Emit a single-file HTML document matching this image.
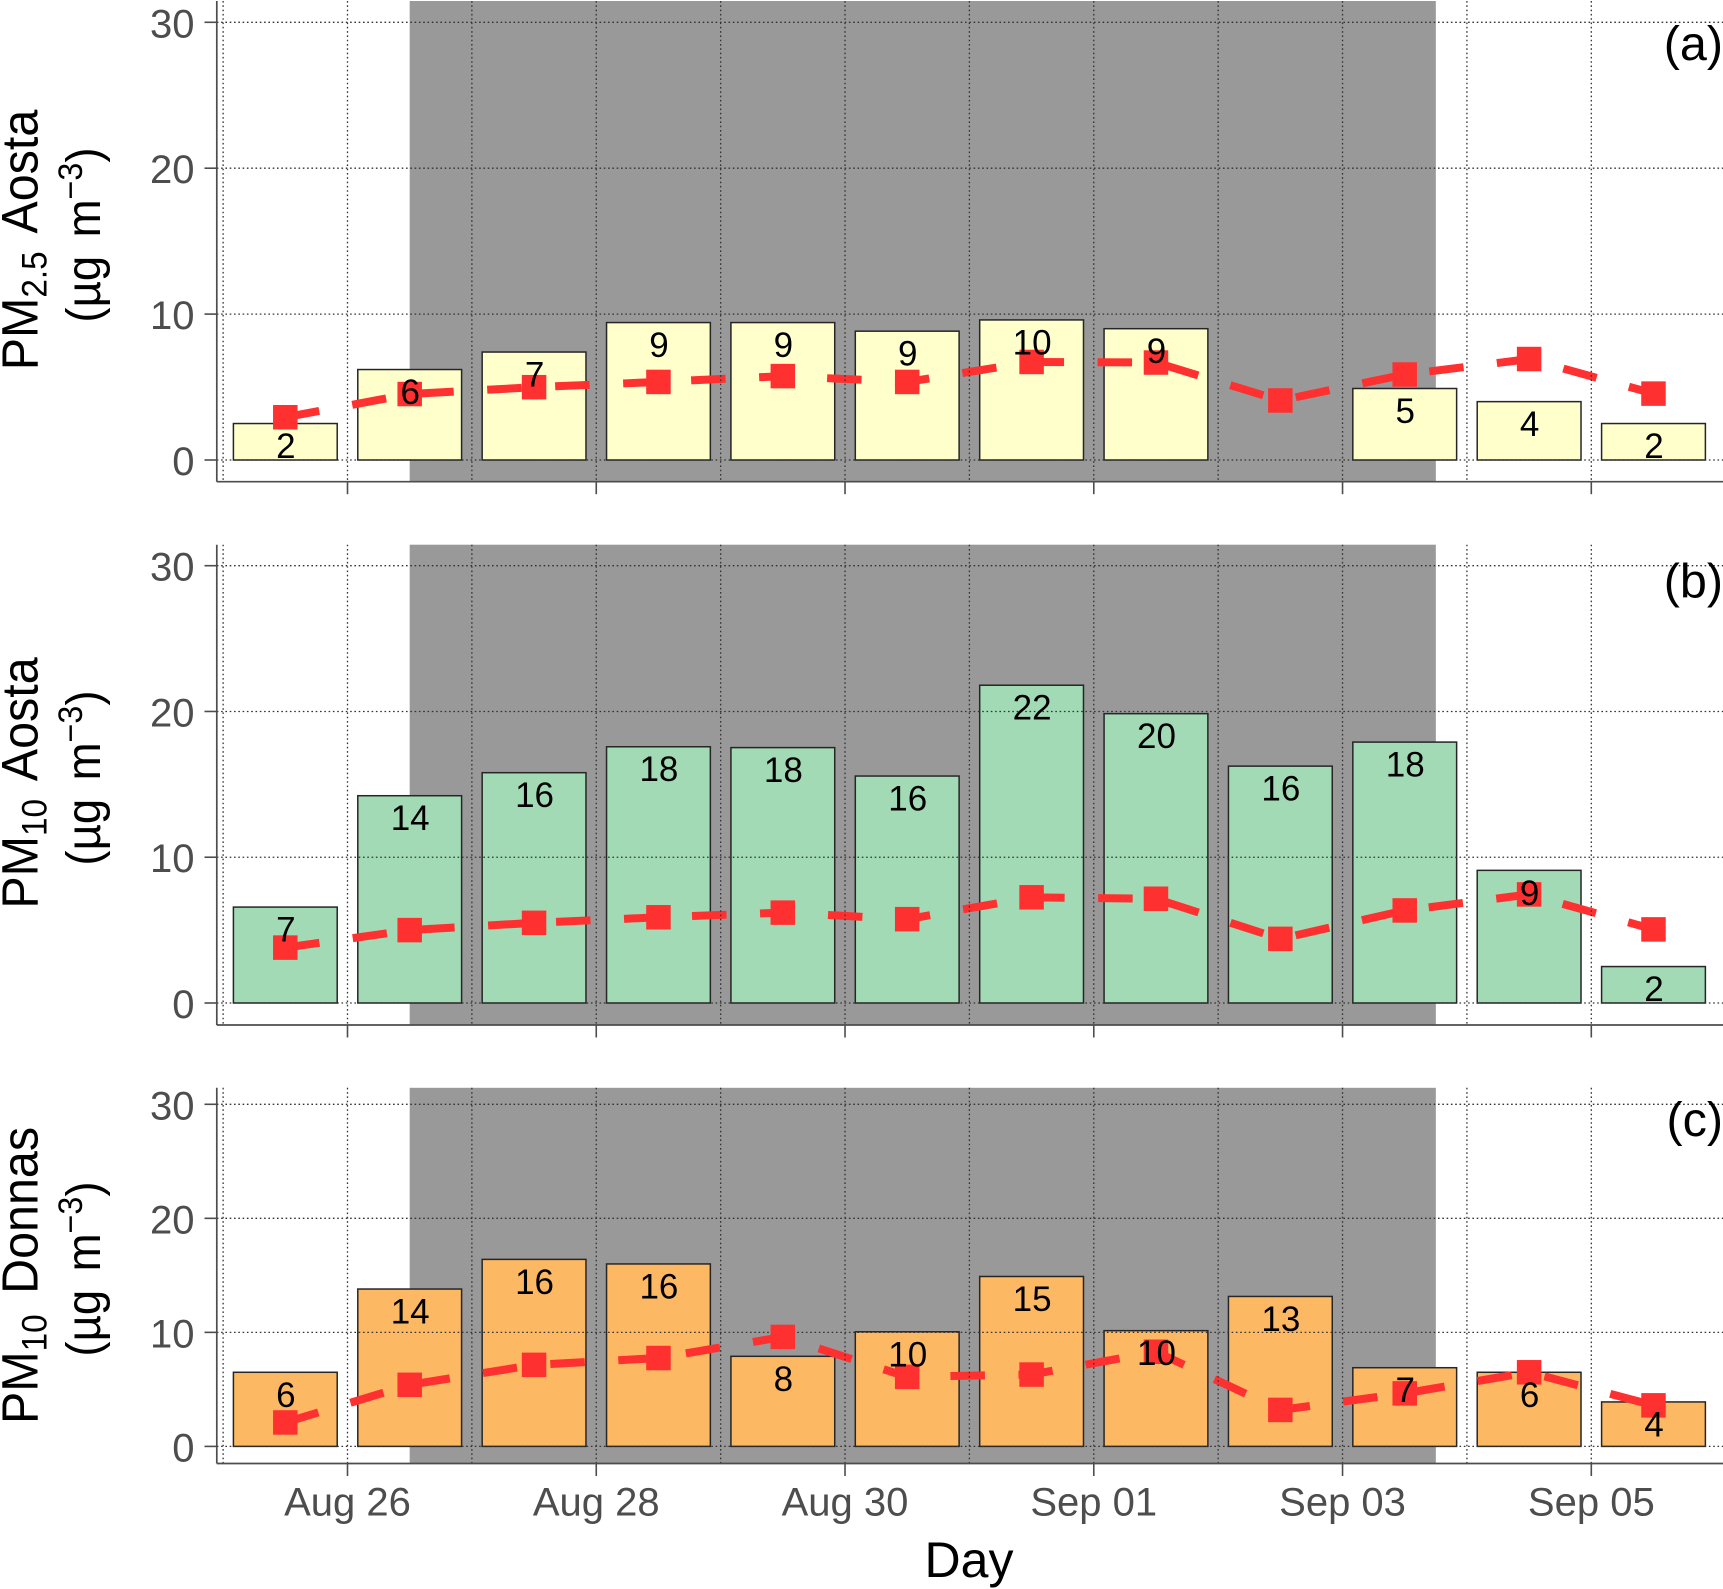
<!DOCTYPE html>
<html lang="en">
<head>
<meta charset="utf-8">
<title>PM concentrations, Aosta and Donnas</title>
<style>
html,body{margin:0;padding:0;background:#fff;width:1723px;height:1589px;overflow:hidden}
svg{display:block;font-family:"Liberation Sans",sans-serif}
</style>
</head>
<body>
<svg id="chart" xmlns="http://www.w3.org/2000/svg" width="1723" height="1589" viewBox="0 0 1723 1589">
  <rect x="0" y="0" width="1723" height="1589" fill="#ffffff"/>
  <g id="panels"></g>

  <text transform="translate(37.5,240) rotate(-90) scale(0.95,1)" text-anchor="middle" font-size="51" fill="#000">PM<tspan font-size="35" dy="9">2.5</tspan><tspan dy="-9" dx="7.4"> Aosta</tspan></text>
  <text transform="translate(100,235) rotate(-90) scale(0.95,1)" text-anchor="middle" font-size="48" fill="#000">(µg <tspan dx="6">m</tspan><tspan font-size="34" dy="-18">−3</tspan><tspan dy="18">)</tspan></text>

  <text transform="translate(37.5,783) rotate(-90) scale(0.95,1)" text-anchor="middle" font-size="51" fill="#000">PM<tspan font-size="35" dy="9">10</tspan><tspan dy="-9" dx="7.4"> Aosta</tspan></text>
  <text transform="translate(100,778) rotate(-90) scale(0.95,1)" text-anchor="middle" font-size="48" fill="#000">(µg <tspan dx="6">m</tspan><tspan font-size="34" dy="-18">−3</tspan><tspan dy="18">)</tspan></text>

  <text transform="translate(37.5,1275.5) rotate(-90) scale(0.95,1)" text-anchor="middle" font-size="51" fill="#000">PM<tspan font-size="35" dy="9">10</tspan><tspan dy="-9" dx="7.4"> Donnas</tspan></text>
  <text transform="translate(100,1269) rotate(-90) scale(0.95,1)" text-anchor="middle" font-size="48" fill="#000">(µg <tspan dx="6">m</tspan><tspan font-size="34" dy="-18">−3</tspan><tspan dy="18">)</tspan></text>

  <text x="1723" y="60" text-anchor="end" font-size="48.5" fill="#000">(a)</text>
  <text x="1723" y="597.5" text-anchor="end" font-size="48.5" fill="#000">(b)</text>
  <text x="1723" y="1136" text-anchor="end" font-size="48.5" fill="#000">(c)</text>

  <text x="969" y="1577" text-anchor="middle" font-size="50" fill="#000">Day</text>
</svg>

<script>
// Data: categories and tick labels
const barDays = ["Aug 25","Aug 26","Aug 27","Aug 28","Aug 29","Aug 30","Aug 31","Sep 01","Sep 02","Sep 03","Sep 04","Sep 05"];
const xTickLabels = ["Aug 26","Aug 28","Aug 30","Sep 01","Sep 03","Sep 05"];
const xTickDays = [0,2,4,6,8,10];
const xMinorDays = [-1,1,3,5,7,9];
const yTicks = [0,10,20,30];
const shadeStartDay = 0.5;
const shadeEndDay = 8.75;

// Panel (a) PM2.5 Aosta
const pm25AostaBars = [2.5,6.2,7.4,9.42,9.42,8.83,9.6,9.0,null,4.9,4.0,2.5];
const pm25AostaLabels = ["2","6","7","9","9","9","10","9","","5","4","2"];
const pm25AostaLine = [2.93,4.52,4.99,5.35,5.75,5.35,6.72,6.68,4.08,5.86,6.92,4.55];

// Panel (b) PM10 Aosta
const pm10AostaBars = [6.58,14.22,15.8,17.58,17.52,15.57,21.8,19.85,16.25,17.9,9.1,2.5];
const pm10AostaLabels = ["7","14","16","18","18","16","22","20","16","18","9","2"];
const pm10AostaLine = [3.8,5.0,5.5,5.88,6.2,5.75,7.25,7.15,4.4,6.35,7.45,5.05];

// Panel (c) PM10 Donnas
const pm10DonnasBars = [6.5,13.8,16.4,16.0,7.9,10.05,14.9,10.15,13.15,6.9,6.5,3.9];
const pm10DonnasLabels = ["6","14","16","16","8","10","15","10","13","7","6","4"];
const pm10DonnasLine = [2.1,5.4,7.15,7.75,9.6,6.1,6.3,8.3,3.2,4.65,6.5,3.6];

const SVGNS = "http://www.w3.org/2000/svg";
const root = document.getElementById("panels");

function xScale(day){ return 347.5 + 124.38 * day; }
function barCenterDay(i){ return i - 0.5; }
function makeYScale(y0, y30){ return function(v){ return y0 + (y30 - y0) * v / 30; }; }

function make(tag, attrs, parent){
  const el = document.createElementNS(SVGNS, tag);
  for (const k in attrs) el.setAttribute(k, attrs[k]);
  parent.appendChild(el);
  return el;
}

function drawPanel(p){
  const y = makeYScale(p.y0, p.y30);
  const left = 216.8, right = 1723;
  const g = make("g", {}, root);
  
  

  // shaded period
  const shade = make("rect", {x:xScale(shadeStartDay), y:p.top, width:xScale(shadeEndDay)-xScale(shadeStartDay), height:p.bottom-p.top, fill:"#999999"}, g);
  
  

  // bars
  const barW = 103.8;
  p.bars.forEach(function(v, i){
    if (v === null) return;
    const bar = make("rect", {x:xScale(barCenterDay(i))-barW/2, y:y(v), width:barW, height:y(0)-y(v), fill:p.fill, stroke:"#262626", "stroke-width":1.5}, g);
    
    
  });

  // line (dashes)
  const pts = p.line.map(function(v, i){ return xScale(barCenterDay(i)) + "," + y(v); }).join(" ");
  const line = make("polyline", {points:pts, fill:"none", stroke:"#FF3030", "stroke-width":8, "stroke-dasharray":"34.5 33.55"}, g);
  
  

  // grid
  yTicks.forEach(function(t){
    const gl = make("line", {x1:left, x2:right, y1:y(t), y2:y(t), stroke:"#333333", "stroke-width":1.3, "stroke-dasharray":"1.6 2.7"}, g);
    
    
  });
  xTickDays.concat(xMinorDays).forEach(function(d){
    const gl = make("line", {x1:xScale(d), x2:xScale(d), y1:p.top, y2:p.bottom, stroke:"#333333", "stroke-width":1.3, "stroke-dasharray":"1.6 2.7"}, g);
    
    
  });

  // markers
  const ms = 24.5;
  p.line.forEach(function(v, i){
    const m = make("rect", {x:xScale(barCenterDay(i))-ms/2, y:y(v)-ms/2, width:ms, height:ms, fill:"#FF3030"}, g);
    
    
  });

  // value labels
  p.labels.forEach(function(txt, i){
    if (!txt || p.bars[i] === null) return;
    const t = make("text", {x:xScale(barCenterDay(i))+0.5, y:y(p.bars[i])+34.5, "text-anchor":"middle", "font-size":35, fill:"#000"}, g);
    t.textContent = txt;
    
    
  });

  // axis lines
  const ya = make("line", {x1:left, x2:left, y1:p.top, y2:p.bottom, stroke:"#4D4D4D", "stroke-width":1.7}, g);
  
  
  const xa = make("line", {x1:left, x2:right, y1:p.bottom, y2:p.bottom, stroke:"#4D4D4D", "stroke-width":1.7}, g);
  
  

  // y ticks
  yTicks.forEach(function(t){
    const tk = make("line", {x1:204.5, x2:left, y1:y(t), y2:y(t), stroke:"#4D4D4D", "stroke-width":1.6}, g);
    
    
    const lb = make("text", {x:194.5, y:y(t)+15, "text-anchor":"end", "font-size":40, fill:"#4D4D4D"}, g);
    lb.textContent = String(t);
    
    
  });

  // x ticks
  xTickDays.forEach(function(d, i){
    const tk = make("line", {x1:xScale(d), x2:xScale(d), y1:p.bottom, y2:p.bottom+12.5, stroke:"#4D4D4D", "stroke-width":1.6}, g);
    
    
    if (p.showXLabels){
      const lb = make("text", {x:xScale(d), y:1515.7, "text-anchor":"middle", "font-size":40, fill:"#4D4D4D"}, g);
      lb.textContent = xTickLabels[i];
      
      
    }
  });
}

drawPanel({id:"a", top:1, bottom:481.7, y0:460, y30:22.3, fill:"#FFFFCC", bars:pm25AostaBars, labels:pm25AostaLabels, line:pm25AostaLine, showXLabels:false});
drawPanel({id:"b", top:544.7, bottom:1025, y0:1003, y30:565.7, fill:"#A1DAB4", bars:pm10AostaBars, labels:pm10AostaLabels, line:pm10AostaLine, showXLabels:false});
drawPanel({id:"c", top:1087.8, bottom:1463.5, y0:1446.4, y30:1104.3, fill:"#FDB863", bars:pm10DonnasBars, labels:pm10DonnasLabels, line:pm10DonnasLine, showXLabels:true});
</script>
</body>
</html>
